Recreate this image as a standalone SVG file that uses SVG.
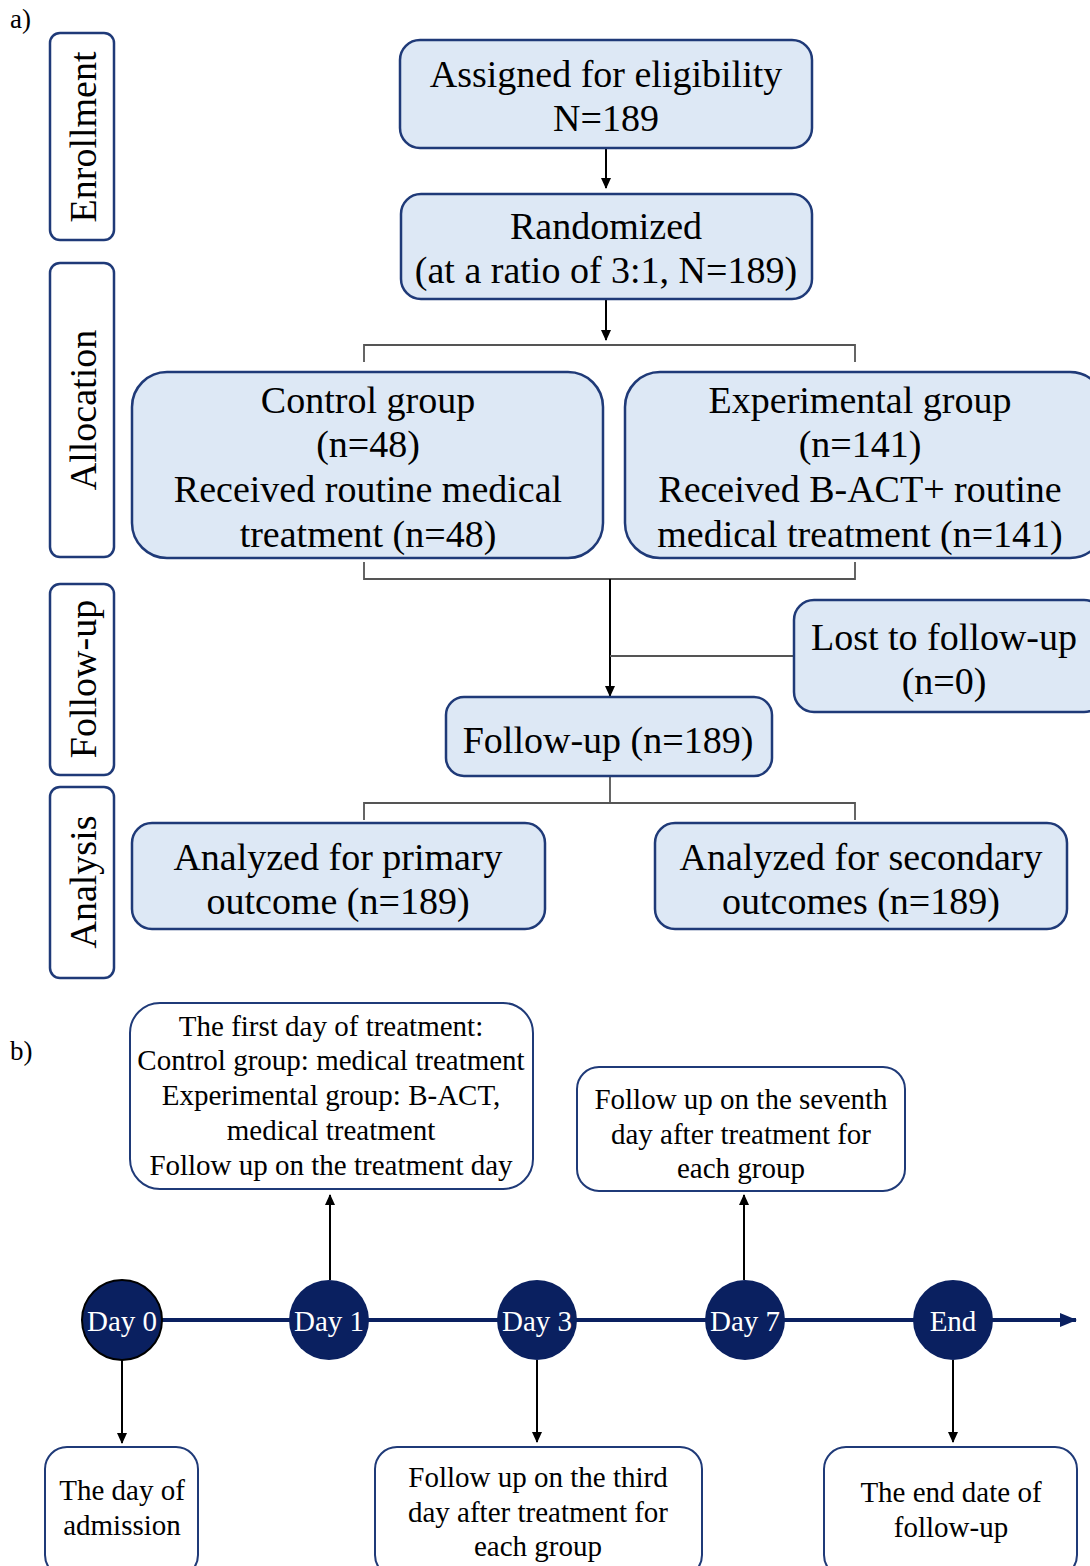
<svg xmlns="http://www.w3.org/2000/svg" width="1090" height="1566" viewBox="0 0 1090 1566">
<style>
text{font-family:"Liberation Serif","Times New Roman",serif;fill:#000;text-anchor:middle}
.big{font-size:38px}
.side{font-size:38px}
.sm{font-size:29px}
.day{font-size:29px;fill:#fff}
.lbl{font-size:27px;text-anchor:start}
.blue{fill:#dde8f5;stroke:#1f3a78;stroke-width:2.5}
.side-box{fill:#fff;stroke:#1f3a78;stroke-width:2.5}
.wbox{fill:#fff;stroke:#1f3a78;stroke-width:2}
.br{fill:none;stroke:#555;stroke-width:1.8}
.ar{fill:none;stroke:#000;stroke-width:2}
.tl{stroke:#0a2060;stroke-width:4;fill:none}
.circ{fill:#0a2060}
</style>
<defs>
<marker id="ah" markerWidth="12" markerHeight="12" refX="10" refY="6" orient="auto" markerUnits="userSpaceOnUse">
<path d="M0,1 L11,6 L0,11 z" fill="#000"/>
</marker>
<marker id="ahn" markerWidth="18" markerHeight="18" refX="16" refY="9" orient="auto" markerUnits="userSpaceOnUse">
<path d="M0,2 L17,9 L0,16 z" fill="#0a2060"/>
</marker>
</defs>

<text class="lbl" x="10" y="28">a)</text>
<text class="lbl" x="10" y="1060">b)</text>

<g id="side-enrollment"><rect class="side-box" x="50" y="33" width="64" height="207" rx="10"/><text class="side" transform="translate(96,137) rotate(-90)">Enrollment</text></g>
<g id="side-allocation"><rect class="side-box" x="50" y="263" width="64" height="294" rx="10"/><text class="side" transform="translate(96,410) rotate(-90)">Allocation</text></g>
<g id="side-followup"><rect class="side-box" x="50" y="584" width="64" height="191" rx="10"/><text class="side" transform="translate(96,679) rotate(-90)">Follow-up</text></g>
<g id="side-analysis"><rect class="side-box" x="50" y="787" width="64" height="191" rx="10"/><text class="side" transform="translate(96,882) rotate(-90)">Analysis</text></g>

<g id="connectors">
<line class="ar" x1="606" y1="149" x2="606" y2="188" marker-end="url(#ah)"/>
<line class="ar" x1="606" y1="300" x2="606" y2="340" marker-end="url(#ah)"/>
<path class="br" d="M364,362 V345 H855 V362"/>
<path class="br" d="M364,562 V579 H855 V562"/>
<line class="ar" x1="610" y1="579" x2="610" y2="696" stroke="#444" marker-end="url(#ah)"/>
<line class="br" x1="610" y1="656" x2="794" y2="656"/>
<path class="br" d="M610,777 V803"/>
<path class="br" d="M364,820 V803 H855 V820"/>
<line class="ar" x1="330" y1="1280" x2="330" y2="1195" marker-end="url(#ah)"/>
<line class="ar" x1="744" y1="1280" x2="744" y2="1195" marker-end="url(#ah)"/>
<line class="ar" x1="122" y1="1360" x2="122" y2="1443" marker-end="url(#ah)"/>
<line class="ar" x1="537" y1="1360" x2="537" y2="1442" marker-end="url(#ah)"/>
<line class="ar" x1="953" y1="1360" x2="953" y2="1442" marker-end="url(#ah)"/>
<line class="tl" x1="122" y1="1320" x2="1076" y2="1320" marker-end="url(#ahn)"/>
</g>

<g id="assigned"><rect class="blue" x="400" y="40" width="412" height="108" rx="20"/><text class="big" x="606" y="87">Assigned for eligibility</text><text class="big" x="606" y="131">N=189</text></g>
<g id="randomized"><rect class="blue" x="401" y="194" width="411" height="105" rx="20"/><text class="big" x="606" y="239">Randomized</text><text class="big" x="606" y="283">(at a ratio of 3:1, N=189)</text></g>
<g id="control"><rect class="blue" x="132" y="372" width="471" height="186" rx="35"/><text class="big" x="368" y="413">Control group</text><text class="big" x="368" y="457">(n=48)</text><text class="big" x="368" y="502">Received routine medical</text><text class="big" x="368" y="547">treatment (n=48)</text></g>
<g id="experimental"><rect class="blue" x="625" y="372" width="480" height="186" rx="35"/><text class="big" x="860" y="413">Experimental group</text><text class="big" x="860" y="457">(n=141)</text><text class="big" x="860" y="502">Received B-ACT+ routine</text><text class="big" x="860" y="547">medical treatment (n=141)</text></g>
<g id="lost"><rect class="blue" x="794" y="600" width="310" height="112" rx="20"/><text class="big" x="944" y="650">Lost to follow-up</text><text class="big" x="944" y="694">(n=0)</text></g>
<g id="followup"><rect class="blue" x="446" y="697" width="326" height="79" rx="18"/><text class="big" x="608" y="753">Follow-up (n=189)</text></g>
<g id="primary"><rect class="blue" x="132" y="823" width="413" height="106" rx="20"/><text class="big" x="338" y="870">Analyzed for primary</text><text class="big" x="338" y="914">outcome (n=189)</text></g>
<g id="secondary"><rect class="blue" x="655" y="823" width="412" height="106" rx="20"/><text class="big" x="861" y="870">Analyzed for secondary</text><text class="big" x="861" y="914">outcomes (n=189)</text></g>

<g id="note-day1"><rect class="wbox" x="130" y="1003" width="403" height="186" rx="30"/><text class="sm" x="331" y="1036">The first day of treatment:</text><text class="sm" x="331" y="1070">Control group: medical treatment</text><text class="sm" x="331" y="1105">Experimental group: B-ACT,</text><text class="sm" x="331" y="1140">medical treatment</text><text class="sm" x="331" y="1175">Follow up on the treatment day</text></g>
<g id="note-day7"><rect class="wbox" x="577" y="1067" width="328" height="124" rx="22"/><text class="sm" x="741" y="1109">Follow up on the seventh</text><text class="sm" x="741" y="1144">day after treatment for</text><text class="sm" x="741" y="1178">each group</text></g>
<g id="note-day0"><rect class="wbox" x="45" y="1447" width="153" height="130" rx="22"/><text class="sm" x="122" y="1500">The day of</text><text class="sm" x="122" y="1535">admission</text></g>
<g id="note-day3"><rect class="wbox" x="375" y="1447" width="327" height="130" rx="22"/><text class="sm" x="538" y="1487">Follow up on the third</text><text class="sm" x="538" y="1522">day after treatment for</text><text class="sm" x="538" y="1556">each group</text></g>
<g id="note-end"><rect class="wbox" x="824" y="1447" width="253" height="130" rx="22"/><text class="sm" x="951" y="1502">The end date of</text><text class="sm" x="951" y="1537">follow-up</text></g>

<g id="day0"><circle class="circ" cx="122" cy="1320" r="40" stroke="#000" stroke-width="2"/><text class="day" x="122" y="1331">Day 0</text></g>
<g id="day1"><circle class="circ" cx="329" cy="1320" r="40"/><text class="day" x="329" y="1331">Day 1</text></g>
<g id="day3"><circle class="circ" cx="537" cy="1320" r="40"/><text class="day" x="537" y="1331">Day 3</text></g>
<g id="day7"><circle class="circ" cx="745" cy="1320" r="40"/><text class="day" x="745" y="1331">Day 7</text></g>
<g id="end"><circle class="circ" cx="953" cy="1320" r="40"/><text class="day" x="953" y="1331">End</text></g>
</svg>
